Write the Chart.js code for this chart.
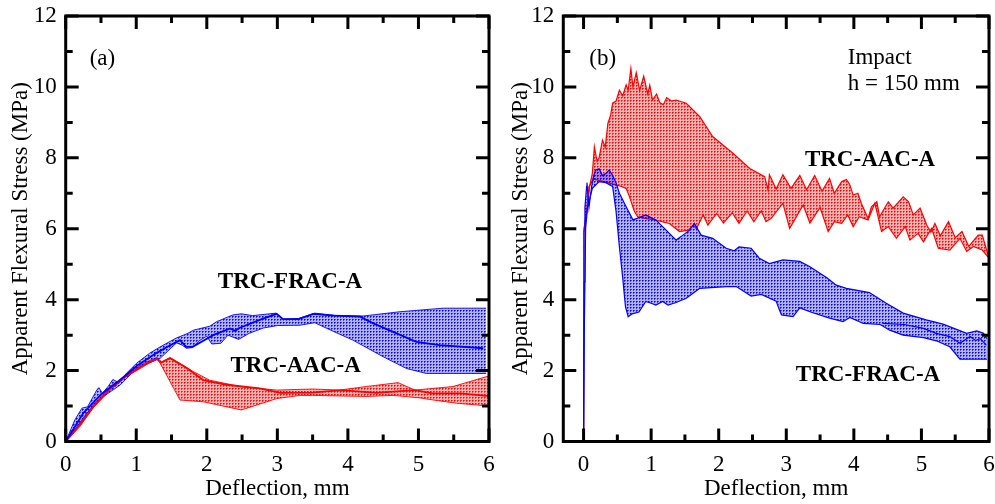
<!DOCTYPE html>
<html>
<head>
<meta charset="utf-8">
<script src="https://cdn.jsdelivr.net/npm/chart.js@4/dist/chart.umd.min.js"></script>
<style>
  body { margin: 0; background: #fff; }
  #wrap { position: relative; width: 995px; height: 504px; }
  #chartA { position: absolute; left: 0; top: 0; }
  #chartB { position: absolute; left: 500px; top: 0; }
</style>
</head>
<body>
<div id="wrap">
  <canvas id="chartA" width="500" height="504"></canvas>
  <canvas id="chartB" width="495" height="504"></canvas>
</div>
<script>
// Panel (a) - static test, [deflection mm, stress MPa]
const aFracUpper = [[0,0],[0.13,0.61],[0.23,0.94],[0.31,0.98],[0.44,1.45],[0.47,1.52],[0.52,1.36],[0.6,1.55],[0.67,1.75],[0.75,1.66],[0.86,1.92],[1.0,2.2],[1.19,2.49],[1.34,2.67],[1.57,2.92],[1.72,3.04],[1.81,3.14],[2.04,3.25],[2.14,3.38],[2.37,3.57],[2.49,3.6],[2.65,3.55],[2.98,3.62],[3.08,3.45],[3.3,3.47],[3.53,3.62],[3.8,3.56],[4.22,3.54],[4.74,3.66],[5.35,3.76],[5.96,3.76]];
const aFracLower = [[0,0],[0.16,0.42],[0.3,0.8],[0.53,1.26],[0.77,1.59],[1.0,2.05],[1.34,2.35],[1.57,2.78],[1.65,2.72],[1.71,2.63],[1.8,2.65],[1.9,2.85],[2.0,2.97],[2.07,2.75],[2.2,2.77],[2.3,3.0],[2.45,2.88],[2.6,3.05],[2.8,3.2],[3.0,3.27],[3.32,3.28],[3.53,3.35],[3.8,3.1],[4.07,2.86],[4.5,2.39],[4.83,2.06],[5.11,1.92],[5.96,1.92]];
const aFracMean = [[0,0],[0.25,0.8],[0.5,1.33],[0.75,1.7],[1.0,2.12],[1.29,2.5],[1.45,2.68],[1.62,2.86],[1.71,2.67],[1.8,2.67],[2.09,3.0],[2.33,3.19],[2.4,3.12],[2.46,3.2],[2.75,3.43],[2.99,3.6],[3.08,3.45],[3.3,3.45],[3.51,3.6],[3.8,3.55],[4.17,3.52],[4.36,3.33],[4.69,3.05],[4.97,2.81],[5.3,2.72],[5.92,2.63]];
const aAacUpper = [[0,0],[0.2,0.51],[0.39,1.03],[0.63,1.55],[0.86,1.88],[1.1,2.2],[1.29,2.37],[1.36,2.25],[1.48,2.37],[1.62,2.2],[1.81,1.97],[2.04,1.73],[2.47,1.55],[2.99,1.45],[3.5,1.48],[3.88,1.45],[4.26,1.55],[4.71,1.66],[4.95,1.45],[5.49,1.55],[6.0,1.85]];
const aAacLower = [[0,0],[0.2,0.42],[0.39,0.95],[0.63,1.45],[0.86,1.83],[1.1,2.11],[1.24,2.3],[1.3,2.35],[1.62,1.17],[1.95,1.12],[2.49,0.89],[2.99,1.21],[3.32,1.3],[3.5,1.3],[4.26,1.27],[4.64,1.3],[5.02,1.23],[5.21,1.17],[5.54,1.08],[6.0,1.0]];
const aAacMean = [[0,0],[0.2,0.47],[0.4,1.0],[0.63,1.5],[0.86,1.85],[1.1,2.15],[1.29,2.33],[1.35,2.22],[1.48,2.35],[1.71,2.08],[1.95,1.73],[2.28,1.6],[2.75,1.5],[3.04,1.37],[3.5,1.38],[3.9,1.45],[4.4,1.37],[4.95,1.45],[5.2,1.36],[5.6,1.36],[6.0,1.28]];

// Panel (b) - impact, h = 150 mm
const bAacUpper = [[0,0],[0,5.9],[0.06,6.62],[0.09,7.2],[0.13,7.56],[0.16,8.31],[0.2,7.9],[0.23,8.0],[0.28,8.5],[0.32,8.3],[0.36,8.97],[0.4,9.2],[0.43,9.54],[0.48,9.6],[0.53,9.91],[0.58,9.75],[0.63,10.06],[0.66,9.9],[0.7,10.52],[0.73,10.0],[0.78,10.4],[0.83,9.9],[0.89,10.3],[0.95,9.8],[0.98,10.05],[1.02,9.63],[1.08,9.8],[1.13,9.55],[1.18,9.5],[1.23,9.7],[1.3,9.6],[1.37,9.63],[1.52,9.54],[1.72,9.16],[1.91,8.6],[2.21,8.13],[2.46,7.7],[2.68,7.47],[2.73,7.09],[2.75,7.52],[2.85,7.12],[2.95,7.52],[3.07,7.14],[3.2,7.5],[3.3,7.1],[3.42,7.5],[3.53,7.06],[3.64,7.42],[3.71,7.0],[3.82,7.33],[3.89,7.39],[3.94,7.24],[3.99,6.95],[4.06,7.0],[4.11,6.72],[4.21,6.29],[4.26,6.62],[4.34,6.76],[4.38,6.34],[4.51,6.76],[4.58,6.58],[4.73,6.9],[4.81,6.76],[4.88,6.39],[4.98,6.58],[5.08,6.1],[5.14,5.9],[5.2,6.15],[5.28,5.8],[5.4,6.2],[5.5,5.75],[5.6,5.92],[5.7,5.5],[5.84,5.82],[5.9,5.82],[6.0,5.17]];
const bAacLower = [[0,0],[0,5.9],[0.05,6.6],[0.08,7.19],[0.15,7.4],[0.3,7.33],[0.45,7.25],[0.55,7.2],[0.63,7.14],[0.68,6.9],[0.75,6.5],[0.8,6.34],[0.88,6.3],[1.05,6.25],[1.27,6.15],[1.42,5.92],[1.55,5.96],[1.62,6.1],[1.67,6.0],[1.77,6.39],[1.84,6.1],[1.97,6.43],[2.07,6.16],[2.2,6.45],[2.3,6.15],[2.42,6.5],[2.52,6.2],[2.63,6.5],[2.7,6.2],[2.78,6.3],[2.95,6.72],[3.05,6.01],[3.25,6.67],[3.35,6.16],[3.5,6.6],[3.62,5.92],[3.71,6.2],[3.82,6.15],[3.91,6.39],[3.99,6.06],[4.08,6.34],[4.21,6.25],[4.31,6.72],[4.41,5.92],[4.51,6.06],[4.63,5.73],[4.76,6.06],[4.83,5.68],[4.95,5.87],[5.03,5.63],[5.15,6.01],[5.25,5.45],[5.42,5.4],[5.57,5.73],[5.67,5.36],[5.77,5.5],[5.9,5.4],[6.0,5.17]];
const bFracUpper = [[0,0],[0.01,4.5],[0.02,6.6],[0.045,7.19],[0.05,7.3],[0.08,6.6],[0.12,7.2],[0.15,7.5],[0.18,7.66],[0.23,7.69],[0.28,7.5],[0.33,7.56],[0.38,7.66],[0.43,7.5],[0.48,7.3],[0.53,7.0],[0.63,6.62],[0.73,6.25],[0.8,6.3],[0.92,6.39],[1.07,6.25],[1.17,6.06],[1.37,5.68],[1.47,5.82],[1.57,5.96],[1.64,6.15],[1.74,5.82],[1.91,5.73],[2.11,5.45],[2.23,5.38],[2.3,5.49],[2.48,5.45],[2.6,5.17],[2.75,5.02],[2.95,5.12],[3.2,5.08],[3.35,4.93],[3.6,4.62],[3.74,4.41],[3.89,4.32],[4.23,4.2],[4.48,3.9],[4.73,3.62],[5.07,3.43],[5.32,3.31],[5.67,3.05],[5.82,3.12],[5.92,3.05],[5.97,2.9]];
const bFracLower = [[0,0],[0.01,3.0],[0.03,6.0],[0.06,6.62],[0.13,7.14],[0.23,7.33],[0.33,7.3],[0.43,7.19],[0.48,6.5],[0.53,5.5],[0.58,4.6],[0.62,3.8],[0.66,3.52],[0.72,3.6],[0.82,3.65],[0.92,3.95],[1.0,3.9],[1.07,3.85],[1.17,3.95],[1.25,3.85],[1.37,3.92],[1.52,4.04],[1.62,4.18],[1.72,4.32],[2.11,4.37],[2.26,4.37],[2.48,4.1],[2.63,4.15],[2.85,3.96],[2.9,3.7],[2.93,3.57],[3.1,3.52],[3.2,3.77],[3.35,3.66],[3.64,3.48],[3.84,3.38],[3.94,3.5],[4.14,3.33],[4.39,3.3],[4.53,3.14],[4.73,3.0],[5.03,2.93],[5.22,2.84],[5.42,2.67],[5.57,2.32],[5.97,2.32]];
const bFracMean = [[4.43,3.33],[4.75,3.3],[5.03,3.19],[5.22,3.05],[5.42,2.96],[5.57,2.77],[5.72,2.96],[5.8,2.85],[5.87,2.9],[5.96,2.72]];

const yTicks = [0, 2, 4, 6, 8, 10, 12];
const FONT = "'Liberation Serif', 'Times New Roman', serif";
const RED = '#ff0000';
const BLUE = '#0000ff';

function pts(arr) {
    return arr.map(([x, y]) => ({ x, y }));
}

// small dotted fill like the original hatching
function dotPattern(r, g, b) {
    const c = document.createElement('canvas');
    c.width = 3; c.height = 3;
    const p = c.getContext('2d');
    p.fillStyle = `rgba(${r},${g},${b},0.3)`;
    p.fillRect(0, 0, 3, 3);
    p.fillStyle = `rgba(${r},${g},${b},1)`;
    p.fillRect(1, 1, 1, 1);
    p.fillStyle = `rgba(${r},${g},${b},0.6)`;
    p.fillRect(2, 1, 1, 1);
    p.fillRect(1, 2, 1, 1);
    return p.createPattern(c, 'repeat');
}

function line(data, color, width, fill, bg) {
    return {
        data: pts(data),
        borderColor: color,
        borderWidth: width,
        backgroundColor: bg || 'transparent',
        fill: fill,
        pointRadius: 0,
        tension: 0
    };
}

// frame with inward major/minor ticks on all four sides
const frameTicks = {
    id: 'frameTicks',
    afterDatasetsDraw(chart) {
        const { ctx, chartArea: a, scales: { x, y } } = chart;
        ctx.save();
        ctx.strokeStyle = '#000';
        ctx.lineWidth = 3;
        ctx.beginPath();
        for (let v = Math.ceil(x.min * 2) / 2; v <= x.max + 1e-9; v += 0.5) {
            const px = x.getPixelForValue(v);
            const len = Number.isInteger(v) ? 13 : 7;
            ctx.moveTo(px, a.bottom); ctx.lineTo(px, a.bottom - len);
            ctx.moveTo(px, a.top); ctx.lineTo(px, a.top + len);
        }
        for (let v = y.min; v <= y.max; v += 1) {
            const py = y.getPixelForValue(v);
            const len = v % 2 === 0 ? 13 : 7;
            ctx.moveTo(a.left, py); ctx.lineTo(a.left + len, py);
            ctx.moveTo(a.right, py); ctx.lineTo(a.right - len, py);
        }
        ctx.stroke();
        ctx.strokeRect(a.left, a.top, a.right - a.left, a.bottom - a.top);
        ctx.restore();
    }
};

const notes = {
    id: 'notes',
    afterDraw(chart, args, opts) {
        const { ctx, scales: { x, y } } = chart;
        ctx.save();
        ctx.fillStyle = '#000';
        ctx.textBaseline = 'middle';
        (opts.items || []).forEach(n => {
            ctx.font = n.font;
            ctx.textAlign = n.align;
            ctx.fillText(n.text, x.getPixelForValue(n.x), y.getPixelForValue(n.y));
        });
        ctx.restore();
    }
};

function makeChart(id, datasets, xMin, axisWidth, rightPad, items) {
    const tickFont = { family: FONT, size: 23 };
    const titleFont = { family: FONT, size: 23 };
    return new Chart(document.getElementById(id), {
        type: 'line',
        data: { datasets },
        plugins: [frameTicks, notes],
        options: {
            responsive: false,
            animation: false,
            layout: { padding: { top: 16, right: rightPad, left: 0, bottom: 0 } },
            plugins: {
                legend: { display: false },
                tooltip: { enabled: false },
                notes: { items }
            },
            scales: {
                x: {
                    type: 'linear',
                    min: xMin,
                    max: 6,
                    grid: { display: false, drawTicks: false },
                    border: { display: false },
                    ticks: {
                        stepSize: 1,
                        includeBounds: false,
                        maxRotation: 0,
                        padding: 10,
                        color: '#000',
                        font: tickFont,
                        callback: v => Number.isInteger(v) ? v : ''
                    },
                    title: { display: true, text: 'Deflection, mm', color: '#000', font: titleFont, padding: { top: 0, bottom: 1 } },
                    afterFit: s => {
                        s.height = 62.5;
                        s.paddingLeft = 0;
                        s.paddingRight = 0;
                    }
                },
                y: {
                    min: 0,
                    max: 12,
                    grid: { display: false, drawTicks: false },
                    border: { display: false },
                    afterBuildTicks: s => { s.ticks = yTicks.map(v => ({ value: v })); },
                    ticks: { padding: 9, color: '#000', font: tickFont },
                    title: { display: true, text: 'Apparent Flexural Stress (MPa)', color: '#000', font: titleFont, padding: { top: 7, bottom: 0 } },
                    afterFit: s => {
                        s.width = axisWidth;
                        s.paddingTop = 0;
                        s.paddingBottom = 0;
                    }
                }
            }
        }
    });
}

document.addEventListener('DOMContentLoaded', () => {
    const redDots = dotPattern(255, 0, 0);
    const blueDots = dotPattern(0, 0, 255);
    const label = `23px ${FONT}`;
    const bold = `bold 23px ${FONT}`;

    makeChart('chartA', [
        line(aFracMean, BLUE, 1.8, false),
        line(aAacMean, RED, 1.8, false),
        line(aFracUpper, BLUE, 0.9, '+1', blueDots),
        line(aFracLower, BLUE, 0.9, false),
        line(aAacUpper, RED, 0.9, '+1', redDots),
        line(aAacLower, RED, 0.9, false)
    ], 0, 65.7, 11, [
        { text: '(a)', x: 0.34, y: 10.79, font: label, align: 'left' },
        { text: 'TRC-FRAC-A', x: 3.18, y: 4.5, font: bold, align: 'center' },
        { text: 'TRC-AAC-A', x: 3.26, y: 2.13, font: bold, align: 'center' }
    ]);

    makeChart('chartB', [
        line(bFracMean, BLUE, 1.2, false),
        line(bFracUpper, BLUE, 1.2, '+1', blueDots),
        line(bFracLower, BLUE, 1.2, false),
        line(bAacUpper, RED, 1.2, '+1', redDots),
        line(bAacLower, RED, 1.2, false)
    ], -0.3, 63.3, 6, [
        { text: '(b)', x: 0.085, y: 10.79, font: label, align: 'left' },
        { text: 'Impact', x: 3.91, y: 10.82, font: label, align: 'left' },
        { text: 'h = 150 mm', x: 3.91, y: 10.08, font: label, align: 'left' },
        { text: 'TRC-AAC-A', x: 4.24, y: 7.94, font: bold, align: 'center' },
        { text: 'TRC-FRAC-A', x: 4.21, y: 1.88, font: bold, align: 'center' }
    ]);
});
</script>
</body>
</html>
